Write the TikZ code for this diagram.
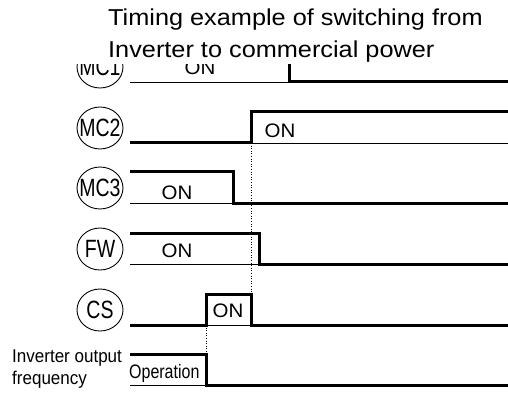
\documentclass[tikz,border=0pt]{standalone}
\usepackage{fontspec}
\setmainfont{Liberation Sans}
\newfontfamily\ftitle[FakeStretch=1.1]{Liberation Sans}
\newfontfamily\fcirc[FakeStretch=0.78]{Liberation Sans}
\newfontfamily\fon[FakeStretch=1.05]{Liberation Sans}
\newfontfamily\fop[FakeStretch=0.82]{Liberation Sans}
\newfontfamily\fleft[FakeStretch=0.92]{Liberation Sans}
\usetikzlibrary{shapes.geometric}
\tikzset{
  sig/.style={line width=3pt, line join=miter, line cap=butt},
  base/.style={line width=0.9pt},
  dots/.style={line width=1pt, dash pattern=on 1pt off 1.6pt},
  ell/.style={draw, ellipse, line width=0.9pt, minimum width=46pt, minimum height=42pt, inner sep=0pt,
    font=\fcirc\fontsize{25}{25}\selectfont},
  onlbl/.style={anchor=base, inner sep=0pt, font=\fon\fontsize{19.5}{20}\selectfont},
  ttl/.style={anchor=base west, inner sep=0pt, font=\ftitle\fontsize{23}{28}\selectfont},
  lft/.style={anchor=base west, inner sep=0pt, font=\fleft\fontsize{18.5}{20}\selectfont}
}
\begin{document}
\begin{tikzpicture}[x=1pt,y=-1pt]
\useasboundingbox (0,0) rectangle (508,398);
% signal name ellipses
\node[ell] (mc1) at (100,67) {\makebox[0pt]{MC1}};
\node[ell] (mc2) at (100,128) {\makebox[0pt]{MC2}};
\node[ell] (mc3) at (100,188) {\makebox[0pt]{MC3}};
\node[ell] (fw)  at (100,249) {\makebox[0pt]{FW}};
\node[ell] (cs)  at (100,310) {\makebox[0pt]{CS}};
% thin baselines
\draw[base] (130,82) -- (289,82);
\draw[base] (251,143) -- (508,143);
\draw[base] (130,203) -- (233,203);
\draw[base] (130,264) -- (259,264);
\draw[base] (206,325) -- (251,325);
\draw[base] (130,385) -- (206,385);
% dotted guide lines
\draw[dots] (251,143) -- (251,294);
\draw[dots] (206,325) -- (206,354);
% waveforms
\draw[sig] (289,50) -- (289,82) -- (508,82);
\draw[sig] (130,143) -- (251,143) -- (251,112) -- (508,112);
\draw[sig] (130,172) -- (233,172) -- (233,203) -- (508,203);
\draw[sig] (130,233) -- (259,233) -- (259,264) -- (508,264);
\draw[sig] (130,325) -- (206,325) -- (206,294) -- (251,294) -- (251,325) -- (508,325);
\draw[sig] (130,354) -- (206,354) -- (206,385) -- (508,385);
% ON labels
\node[onlbl] (on1) at (200,75) {ON};
\node[onlbl] (on2) at (280,138) {ON};
\node[onlbl] (on3) at (177,199) {ON};
\node[onlbl] (on4) at (177,257) {ON};
\node[onlbl] (on5) at (228,317) {ON};
\node[anchor=base west, inner sep=0pt, font=\fop\fontsize{19.5}{20}\selectfont] (op) at (129,378) {Operation};
% left label
\node[lft] (inv1) at (12,362) {Inverter output};
\node[lft] (inv2) at (12,384) {frequency};
% title with white background
\fill[white] (0,0) rectangle (508,64.5);
\node[ttl] (t1) at (108,26) {Timing example of switching from};
\node[ttl] (t2) at (108,57.5) {Inverter to commercial power};
\end{tikzpicture}
\end{document}
